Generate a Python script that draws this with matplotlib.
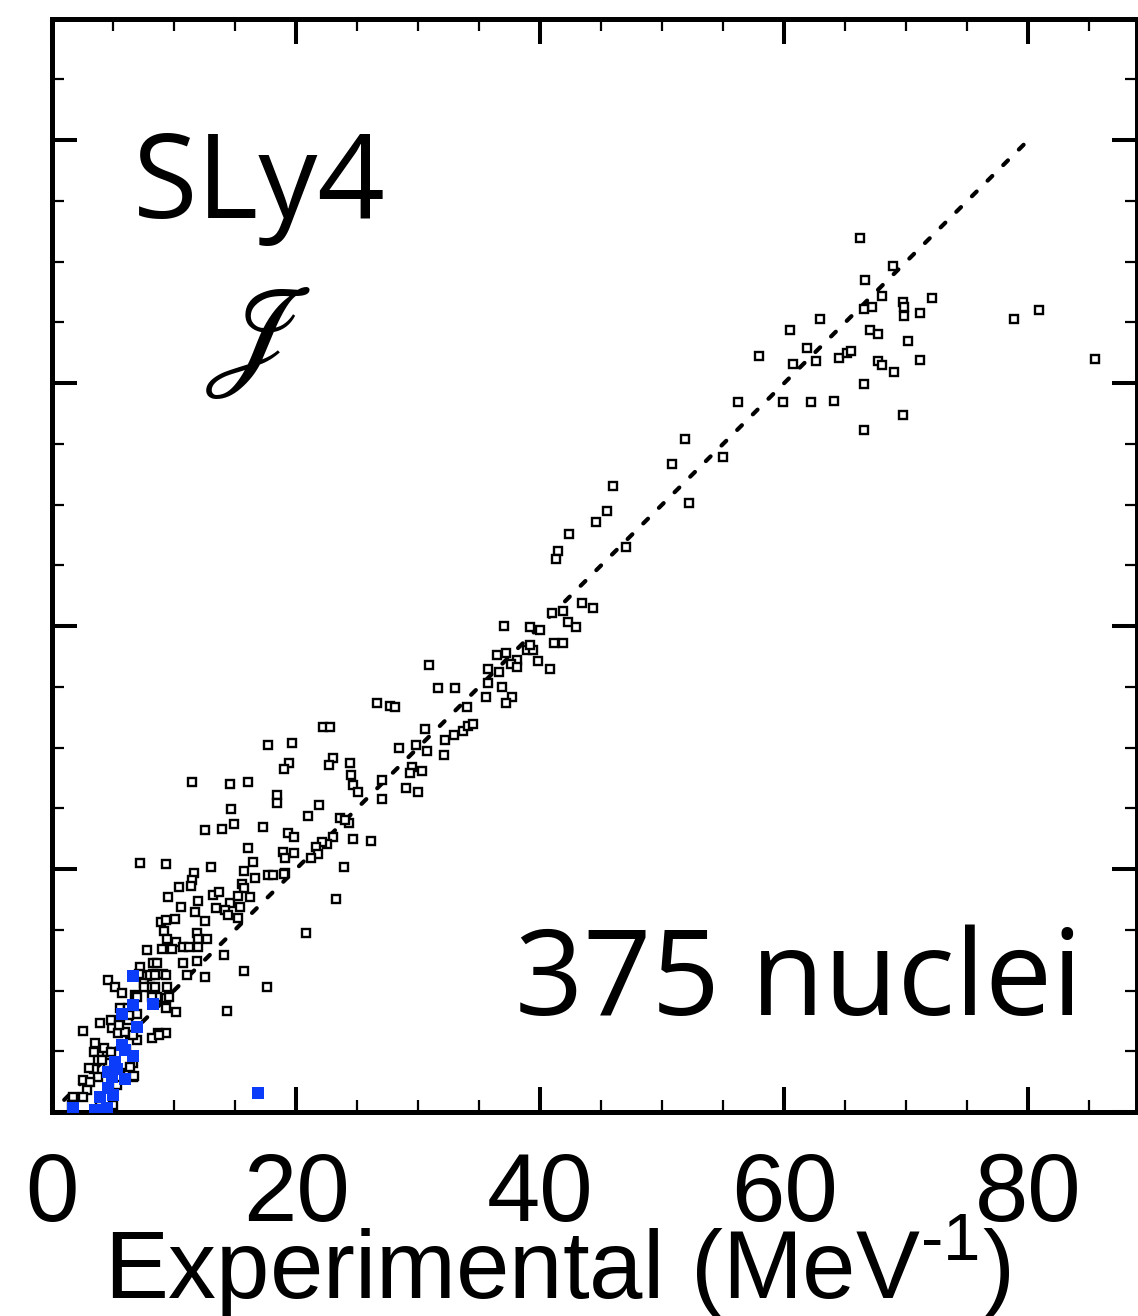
import matplotlib
matplotlib.use("Agg")
import matplotlib.pyplot as plt

# experimental vs SLy4 moments of inertia (MeV^-1)
exp_open = [66.2, 68.9, 66.6, 68.0, 67.2, 66.5, 69.7, 69.8, 69.8, 71.1, 72.1, 62.9, 60.5, 67.0, 67.7,
            70.1, 61.9, 57.9, 60.7, 62.6, 64.5, 65.1, 65.5, 67.7, 68.0, 69.0, 71.1, 66.5, 78.8, 80.9,
            85.5, 56.2, 59.9, 62.2, 64.1, 69.7, 66.5, 51.9, 50.8, 55.0, 46.0, 45.5, 44.6, 42.4, 41.5,
            41.3, 52.2, 47.0, 37.0, 39.2, 40.0, 41.0, 41.9, 43.4, 44.3, 42.3, 42.9, 41.1, 41.9, 40.8,
            36.5, 37.2, 38.1, 37.6, 38.1, 38.9, 39.4, 39.2, 39.8, 35.7, 36.6, 35.7, 35.6, 36.9, 37.7,
            37.2, 30.9, 31.6, 33.0, 34.0, 26.6, 27.7, 28.1, 30.6, 32.2, 32.9, 33.7, 34.1, 34.5, 32.1,
            22.2, 22.8, 19.7, 29.8, 30.7, 28.4, 19.4, 19.0, 23.0, 22.7, 24.4, 29.5, 29.3, 30.3, 24.5,
            24.7, 25.1, 27.0, 27.0, 29.0, 30.0, 21.9, 21.0, 23.6, 24.3, 24.0, 19.3, 19.8, 23.0, 22.5,
            22.1, 21.6, 21.8, 21.2, 18.9, 19.8, 19.1, 24.7, 26.1, 23.9, 19.1, 17.7, 14.6, 16.1, 11.5,
            18.4, 18.4, 14.7, 12.5, 13.9, 14.9, 17.3, 16.1, 16.5, 7.2, 9.3, 13.0, 11.6, 11.5, 11.4,
            15.7, 16.6, 15.6, 15.7, 17.7, 18.1, 19.0, 23.3, 10.4, 9.5, 10.6, 12.0, 11.7, 13.2, 13.7,
            13.4, 14.6, 15.2, 15.4, 16.2, 14.2, 14.4, 15.2, 12.5, 8.9, 9.3, 10.1, 9.2, 9.4, 10.2,
            11.9, 12.7, 12.0, 7.8, 9.0, 9.8, 10.7, 11.2, 12.0, 14.1, 10.7, 11.9, 8.3, 7.2, 8.6,
            8.3, 9.1, 7.8, 12.5, 15.7, 17.6, 20.8, 14.3, 4.6, 5.2, 5.7, 6.8, 7.5, 8.0, 8.4,
            9.4, 7.0, 8.6, 9.3, 10.2, 9.3, 5.6, 6.2, 7.0, 2.5, 3.9, 4.9, 5.4, 6.0, 6.2,
            8.7, 9.3, 8.2, 7.0, 3.5, 3.4, 3.8, 3.4, 4.5, 4.6, 3.8, 2.5, 3.1, 2.9, 1.7,
            2.5, 6.1, 6.6, 6.2, 6.6, 5.3, 4.8, 5.5, 3.0, 4.3, 4.8, 4.1, 6.4, 6.7, 6.6,
            8.8, 6.3, 8.0, 8.4, 9.3, 7.5, 8.2, 9.6, 11.1, 7.1, 1.6, 3.9, 5.0]
sly4_open = [71.9, 69.6, 68.5, 67.2, 66.3, 66.1, 66.7, 66.3, 65.5, 65.8, 67.0, 65.3, 64.4, 64.4, 64.0,
             63.5, 62.9, 62.2, 61.6, 61.8, 62.1, 62.5, 62.6, 61.8, 61.5, 60.9, 61.9, 59.9, 65.3, 66.0,
             62.0, 58.4, 58.4, 58.4, 58.5, 57.4, 56.1, 55.4, 53.3, 53.9, 51.5, 49.5, 48.6, 47.6, 46.2,
             45.5, 50.1, 46.5, 40.0, 39.9, 39.7, 41.1, 41.2, 41.9, 41.5, 40.3, 39.9, 38.6, 38.6, 36.5,
             37.6, 37.8, 37.2, 36.9, 36.6, 38.0, 38.0, 38.4, 37.1, 36.5, 36.2, 35.3, 34.2, 35.0, 34.2,
             33.7, 36.8, 34.9, 34.9, 33.3, 33.7, 33.4, 33.3, 31.5, 30.6, 31.0, 31.4, 31.8, 31.9, 29.4,
             31.7, 31.7, 30.4, 30.2, 29.7, 30.0, 28.7, 28.2, 29.1, 28.6, 28.7, 28.4, 27.9, 28.1, 27.7,
             26.9, 26.3, 27.3, 25.8, 26.7, 26.3, 25.3, 24.4, 24.2, 23.8, 24.0, 23.0, 22.6, 22.6, 22.1,
             22.2, 21.8, 21.2, 20.9, 21.4, 21.3, 20.9, 22.5, 22.3, 20.2, 19.7, 30.2, 27.0, 27.2, 27.2,
             26.1, 25.4, 24.9, 23.2, 23.3, 23.7, 23.5, 21.7, 20.6, 20.5, 20.4, 20.2, 19.7, 19.1, 18.6,
             19.8, 19.3, 18.8, 18.4, 19.5, 19.5, 19.6, 17.5, 18.5, 17.7, 16.9, 17.4, 16.5, 17.9, 18.1,
             16.8, 17.2, 17.8, 16.9, 17.7, 16.6, 16.2, 16.0, 15.7, 15.6, 15.8, 15.9, 14.9, 14.2, 14.0,
             14.7, 14.2, 14.2, 13.3, 13.4, 13.4, 13.6, 13.6, 13.6, 12.9, 12.3, 12.4, 12.3, 11.9, 12.3,
             11.4, 11.4, 11.2, 11.1, 11.6, 10.3, 14.7, 8.3, 10.9, 10.3, 9.8, 9.6, 10.6, 10.3, 10.3,
             10.3, 9.5, 9.5, 9.4, 8.2, 8.6, 8.6, 8.6, 8.1, 6.7, 7.3, 6.9, 6.5, 6.6, 7.6,
             6.5, 6.5, 6.1, 5.9, 5.7, 4.9, 4.3, 3.5, 4.9, 4.0, 2.9, 2.6, 2.5, 1.8, 1.2,
             1.2, 5.1, 4.0, 3.2, 2.9, 2.2, 7.6, 7.2, 3.6, 5.3, 4.9, 4.3, 3.7, 3.0, 6.3,
             6.3, 8.0, 11.3, 11.3, 11.3, 10.3, 9.5, 9.5, 11.3, 11.4, 0.6, 0.5, 0.6]

exp_blue = [6.6, 8.3, 6.6, 5.7, 7.0, 5.7, 6.0, 6.6, 5.2, 5.3, 4.6, 4.9, 6.0, 4.6, 5.0,
            3.9, 16.9, 1.7, 3.5, 4.5]
sly4_blue = [11.2, 8.9, 8.8, 8.1, 7.0, 5.5, 5.1, 4.6, 4.1, 3.5, 3.3, 2.9, 2.7, 2.0, 1.4,
             1.2, 1.6, 0.3, 0.2, 0.3]

diag = [1, 80]

plt.rcParams['font.family'] = ['Liberation Sans', 'DejaVu Sans']
plt.rcParams['mathtext.fontset'] = 'custom'
plt.rcParams['mathtext.rm'] = 'Liberation Sans'

fig = plt.figure(figsize=(11.38, 13.16), dpi=100)
ax = fig.add_axes([0.0457, 0.155, 0.9534, 0.8309])

ax.plot(diag, diag, color='black', lw=3.0, linestyle=(0, (1.6, 3.7)),
        dash_capstyle='round', zorder=1)
ax.plot(exp_open, sly4_open, 's', ms=6.4, mfc='white', mec='black', mew=1.7,
        linestyle='none', zorder=2)
ax.plot(exp_blue, sly4_blue, 's', ms=8.5, color='#0a3cfa', mew=0,
        linestyle='none', zorder=3)

ax.set_xlim(0, 88.9)
ax.set_ylim(0, 90)
ax.set_xticks([0, 20, 40, 60, 80])
ax.set_xticks(range(5, 90, 5), minor=True)
ax.set_yticks([0, 20, 40, 60, 80])
ax.set_yticks(range(5, 90, 5), minor=True)
ax.tick_params(which='both', direction='in', top=True, right=True,
               labelleft=False, labelsize=69, pad=28)
ax.tick_params(which='major', length=18, width=2.9)
ax.tick_params(which='minor', length=8.6, width=1.6)
for s in ax.spines.values():
    s.set_linewidth(3.6)

ax.set_xlabel(r'Experimental (MeV$^{\text{-1}}$)', fontsize=69)
ax.xaxis.set_label_coords(0.466, -0.091)

ax.text(6.6, 73.6, 'SLy4', family='Open Sans', fontsize=85, ha='left', va='baseline')
ax.text(16.8, 63.4, r'$\mathscr{J}$', fontsize=95, math_fontfamily='stix',
        ha='center', va='center')
ax.text(84.4, 8.0, '375 nuclei', family='Open Sans', fontsize=86, ha='right',
        va='baseline')

fig.savefig('out.png', dpi=100)
